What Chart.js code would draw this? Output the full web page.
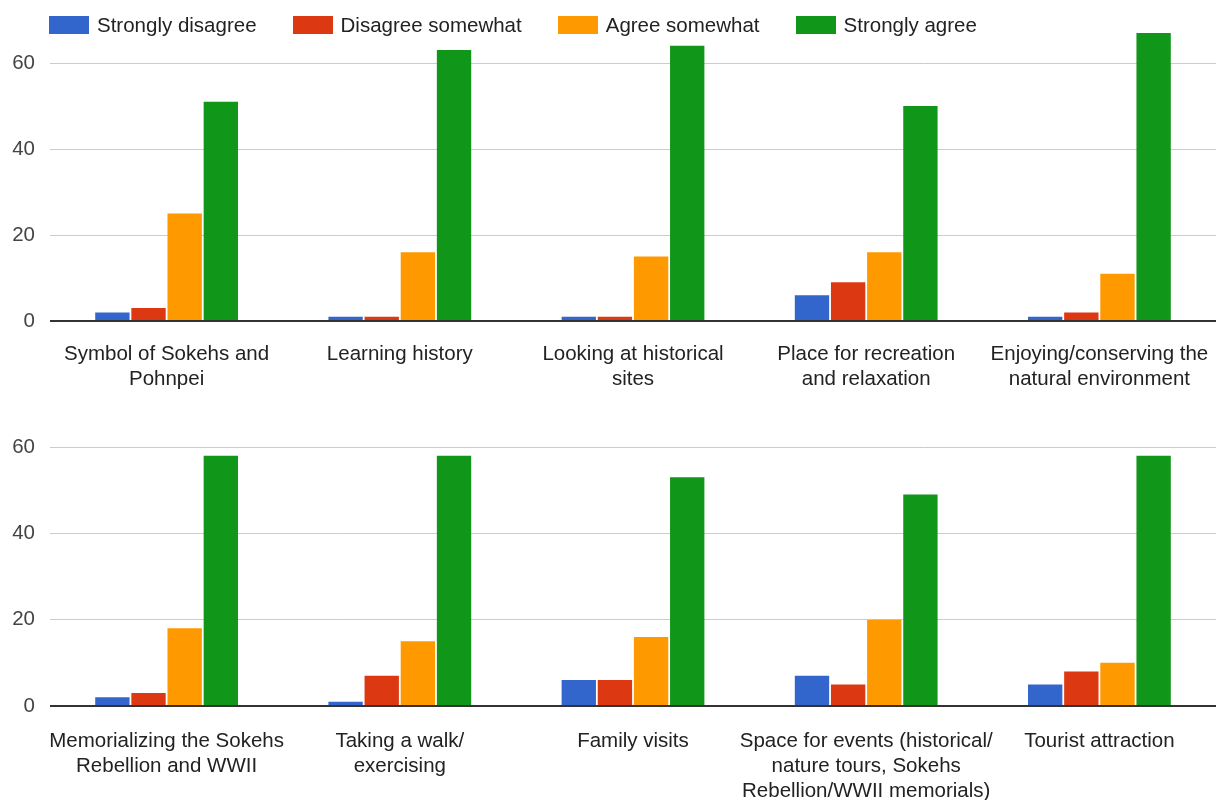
<!DOCTYPE html>
<html>
<head>
<meta charset="utf-8">
<script src="https://cdn.jsdelivr.net/npm/chart.js@4.4.1/dist/chart.umd.min.js"></script>
<style>
  html, body { margin: 0; padding: 0; background: #fff; }
  #wrap { position: relative; width: 1230px; height: 800px; font-family: 'Liberation Sans', Arial, sans-serif; }
  .panel { position: absolute; left: 0; width: 1230px; height: 400px; }
  #legend { position: absolute; top: 16px; left: 49px; display: flex; gap: 36px; z-index: 2; }
  .item { display: flex; align-items: center; font-size: 20.5px; line-height: 18px; color: #222; }
  .swatch { width: 40px; height: 18px; margin-right: 8px; }
</style>
</head>
<body>
<div id="wrap">
  <div class="panel" style="top:0"><canvas id="topChart" width="1230" height="400"></canvas></div>
  <div class="panel" style="top:400px"><canvas id="bottomChart" width="1230" height="400"></canvas></div>
  <div id="legend"></div>
</div>
<script>
const seriesNames = ['Strongly disagree', 'Disagree somewhat', 'Agree somewhat', 'Strongly agree'];
const seriesColors = ['#3366cc', '#dc3912', '#ff9900', '#109618'];
const yTicks = [0, 20, 40, 60];

// upper panel
const topCategories = [
  ['Symbol of Sokehs and', 'Pohnpei'],
  'Learning history',
  ['Looking at historical', 'sites'],
  ['Place for recreation', 'and relaxation'],
  ['Enjoying/conserving the', 'natural environment']
];
const topStronglyDisagree = [2, 1, 1, 6, 1];
const topDisagreeSomewhat = [3, 1, 1, 9, 2];
const topAgreeSomewhat = [25, 16, 15, 16, 11];
const topStronglyAgree = [51, 63, 64, 50, 67];

// lower panel
const bottomCategories = [
  ['Memorializing the Sokehs', 'Rebellion and WWII'],
  ['Taking a walk/', 'exercising'],
  'Family visits',
  ['Space for events (historical/', 'nature tours, Sokehs', 'Rebellion/WWII memorials)'],
  'Tourist attraction'
];
const bottomStronglyDisagree = [2, 1, 6, 7, 5];
const bottomDisagreeSomewhat = [3, 7, 6, 5, 8];
const bottomAgreeSomewhat = [18, 15, 16, 20, 10];
const bottomStronglyAgree = [58, 58, 53, 49, 58];

Chart.defaults.font.family = "'Liberation Sans', Arial, sans-serif";
Chart.defaults.font.size = 20.5;

function makeChart(id, labels, values, padTop, xHeight, labelPad) {
  return new Chart(document.getElementById(id), {
    type: 'bar',
    data: {
      labels: labels,
      datasets: values.map((v, i) => ({
        label: seriesNames[i],
        data: v,
        backgroundColor: seriesColors[i],
        categoryPercentage: 0.62,
        barPercentage: 0.95
      }))
    },
    options: {
      responsive: false,
      animation: false,
      layout: { padding: { top: padTop, right: 14, left: 0, bottom: 0 } },
      plugins: { legend: { display: false }, tooltip: { enabled: false } },
      scales: {
        x: {
          grid: { display: false },
          border: { display: false },
          ticks: { color: '#222', padding: labelPad, maxRotation: 0, autoSkip: false, font: { lineHeight: 1.22 } },
          afterFit: s => { s.height = xHeight; }
        },
        y: {
          min: 0,
          max: 70,
          border: { display: false },
          grid: {
            drawTicks: false,
            color: c => c.tick.value === 0 ? '#333' : '#ccc',
            lineWidth: c => c.tick.value === 0 ? 2 : 1
          },
          ticks: { color: '#444', padding: 15, stepSize: 20 },
          afterBuildTicks: s => { s.ticks = s.ticks.filter(t => yTicks.includes(t.value)); },
          afterFit: s => { s.width = 50; s.paddingTop = 0; s.paddingBottom = 0; }
        }
      }
    }
  });
}

const topChart = makeChart('topChart', topCategories,
  [topStronglyDisagree, topDisagreeSomewhat, topAgreeSomewhat, topStronglyAgree], 20, 79, 13);
makeChart('bottomChart', bottomCategories,
  [bottomStronglyDisagree, bottomDisagreeSomewhat, bottomAgreeSomewhat, bottomStronglyAgree], 4, 94, 15);

// legend built from the datasets
const legend = document.getElementById('legend');
topChart.data.datasets.forEach(ds => {
  const item = document.createElement('div');
  item.className = 'item';
  const sw = document.createElement('span');
  sw.className = 'swatch';
  sw.style.background = ds.backgroundColor;
  item.appendChild(sw);
  item.appendChild(document.createTextNode(ds.label));
  legend.appendChild(item);
});
</script>
</body>
</html>
